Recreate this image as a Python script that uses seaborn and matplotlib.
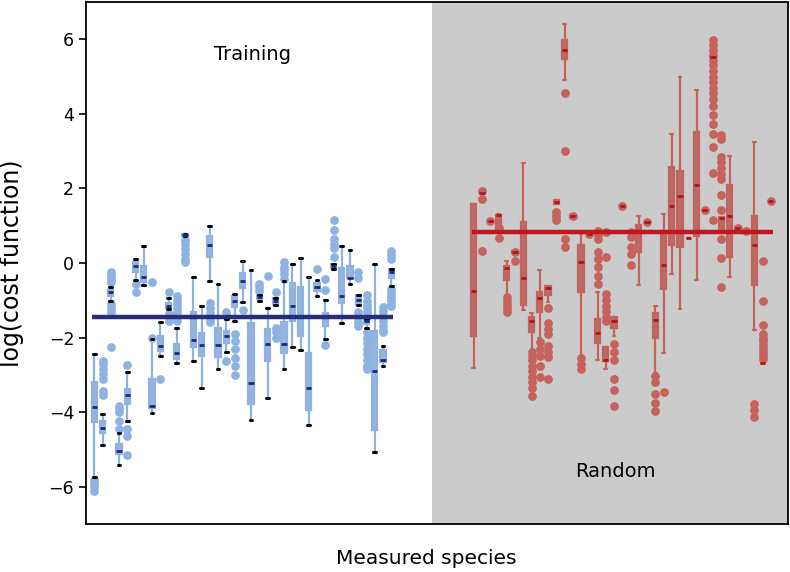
import numpy as np
import pandas as pd
import matplotlib
matplotlib.use("Agg")
import matplotlib.pyplot as plt
import seaborn as sns

# five-number summaries (lo whisker, q1, median, q3, hi whisker)
train_lo = [-5.74, -4.87, -1.03, -5.42, -4.25, -0.45, -0.59, -4.03, -2.49, -1.23,
            -2.69, 0.72, -2.62, -3.36, -0.47, -2.85, -2.40, -1.55, -1.04, -4.21,
            -1.01, -3.61, -1.13, -2.85, -2.24, -2.33, -4.34, -0.88, -2.04, -0.16,
            -1.61, -0.55, -1.13, -1.73, -5.08, -2.76, -0.63]
train_q1 = [-4.26, -4.55, -0.88, -5.13, -3.79, -0.23, -0.50, -3.90, -2.35, -1.22,
            -2.58, 0.72, -2.26, -2.49, 0.15, -2.53, -2.15, -1.19, -0.68, -3.79,
            -0.97, -2.62, -1.10, -2.42, -1.55, -1.97, -3.94, -0.74, -1.68, -0.14,
            -1.06, -0.41, -1.13, -1.64, -4.47, -2.65, -0.41]
train_med = [-3.87, -4.43, -0.77, -5.04, -3.54, -0.09, -0.37, -3.83, -2.22, -1.15,
             -2.42, 0.76, -2.06, -2.19, 0.47, -2.20, -1.97, -1.03, -0.49, -3.22,
             -0.92, -2.16, -1.01, -2.16, -1.15, -1.46, -3.34, -0.65, -1.43, -0.07,
             -0.88, -0.39, -0.99, -1.55, -2.89, -2.60, -0.23]
train_q3 = [-3.20, -4.23, -0.72, -4.86, -3.38, 0.02, -0.07, -3.11, -1.95, -1.06,
            -2.17, 0.78, -1.31, -1.88, 0.72, -1.73, -1.82, -0.89, -0.28, -1.62,
            -0.87, -1.77, -0.94, -1.57, -0.54, -0.65, -2.42, -0.54, -1.33, -0.03,
            -0.14, -0.07, -0.86, -1.49, -1.82, -2.34, -0.16]
train_hi = [-2.45, -4.05, -0.64, -4.55, -2.92, 0.11, 0.45, -2.05, -1.57, -0.94,
            -1.74, 0.78, -0.38, -1.16, 1.00, -0.56, -1.50, -0.83, 0.06, -0.18,
            -0.87, -1.22, -0.94, -0.47, -0.03, 0.13, -0.37, -0.45, -0.99, -0.03,
            0.45, 0.35, -0.86, -1.49, -0.03, -2.22, -0.16]
train_fliers = [
    [-5.82, -5.92, -6.02, -6.12],
    [-2.62, -2.72, -2.85, -2.98, -3.11, -3.43, -3.55],
    [-0.25, -0.33, -0.42, -0.52, -1.10, -1.20, -1.32, -2.26],
    [-3.83, -3.92, -4.00, -4.23, -4.45],
    [-2.73, -4.46, -4.65, -5.15],
    [-0.55, -0.77],
    [],
    [-0.50, -2.00],
    [-3.10],
    [-0.77, -1.37, -1.46, -1.55],
    [-0.88, -1.00, -1.10, -1.20, -1.32, -1.43, -1.55],
    [0.62, 0.50, 0.38, 0.24, 0.11, 0.02],
    [],
    [],
    [-1.06, -1.20, -1.35, -1.50, -1.59],
    [],
    [-1.32, -2.62],
    [-1.90, -2.10, -2.30, -2.55, -2.75, -3.00],
    [-1.26],
    [],
    [-0.56, -0.65, -0.75],
    [-0.34],
    [-0.79, -1.73, -1.85, -2.00],
    [0.02, -0.10, -0.20, -0.30, -0.43],
    [],
    [],
    [],
    [-0.16],
    [-0.43, -0.72, -2.19],
    [1.14, 0.89, 0.64, 0.52, 0.40, 0.15],
    [],
    [],
    [-0.23, -0.41, -1.32, -1.45, -1.58, -1.68],
    [-0.85, -1.01, -1.12, -1.22, -1.32, -1.41, -1.86, -2.00, -2.15, -2.30, -2.45, -2.60, -2.75, -2.85],
    [],
    [-1.19, -1.30, -1.42, -1.55, -1.68, -1.80, -1.86],
    [0.33, 0.22, 0.11, -0.70, -0.80, -0.90, -1.00, -1.10, -1.15],
]

rand_lo = [-2.82, 1.88, 1.10, 0.88, -0.90, 0.27, -1.25, -2.35, -2.00, -1.04,
           1.58, 4.92, 1.22, -2.50, 0.75, -2.60, -2.83, -1.95, 1.52, 0.82,
           -0.59, 1.09, -2.95, -2.42, -0.30, -1.23, 0.67, -0.45, 1.42, 5.52,
           0.82, -0.38, 0.90, 0.85, -1.79, -2.67, 1.65]
rand_q1 = [-1.95, 1.88, 1.10, 0.90, -0.46, 0.27, -1.13, -1.86, -1.31, -0.86,
           1.58, 5.46, 1.22, -0.79, 0.75, -2.15, -2.62, -1.73, 1.52, 0.82,
           0.29, 1.09, -2.02, -0.70, 0.47, 0.42, 0.67, 0.72, 1.42, 5.50,
           0.82, 0.15, 0.90, 0.85, -0.59, -2.67, 1.65]
rand_med = [-0.76, 1.88, 1.12, 1.30, -0.14, 0.30, -0.41, -1.55, -0.94, -0.68,
            1.63, 5.72, 1.25, 0.04, 0.78, -1.88, -2.60, -1.55, 1.52, 0.82,
            0.82, 1.09, -1.52, -0.05, 1.54, 1.79, 0.67, 2.09, 1.42, 5.52,
            1.20, 1.27, 0.94, 0.85, 0.48, -2.67, 1.65]
rand_q3 = [1.58, 1.88, 1.16, 1.30, -0.07, 0.33, 1.09, -1.46, -0.79, -0.61,
           1.68, 5.97, 1.28, 0.47, 0.81, -1.50, -2.24, -1.46, 1.52, 0.82,
           1.02, 1.09, -1.35, 0.87, 2.57, 2.46, 0.67, 3.51, 1.42, 5.55,
           1.23, 2.08, 0.97, 0.85, 1.27, -2.67, 1.65]
rand_hi = [1.58, 1.88, 1.16, 1.32, 0.06, 0.33, 2.68, -1.34, -0.18, -0.61,
           1.68, 6.42, 1.28, 0.78, 0.81, -0.79, -2.24, -1.46, 1.52, 0.82,
           1.25, 1.09, -1.15, 1.32, 3.46, 5.00, 0.67, 4.64, 1.42, 5.55,
           1.23, 2.88, 0.97, 0.85, 3.24, -2.67, 1.65]
rand_fliers = [
    [],
    [1.94, 1.72, 0.31],
    [1.12],
    [0.95, 0.67],
    [-0.92, -1.02, -1.12, -1.22, -1.32],
    [0.30, 0.06],
    [],
    [-2.40, -2.50, -2.60, -2.75, -2.90, -3.05, -3.20, -3.35, -3.56],
    [-2.13, -2.30, -2.50, -2.75, -3.07],
    [-1.21, -1.61, -1.76, -1.91, -2.22, -2.38, -2.53, -3.10],
    [1.36, 1.25, 1.14],
    [4.55, 3.00, 0.64, 0.42],
    [1.25],
    [-2.55, -2.70, -2.85],
    [0.78],
    [0.87, 0.75, 0.64, 0.29, 0.10, -0.10, -0.35, -0.56],
    [0.82, 0.15, -0.83, -1.00, -1.15, -1.30, -1.45, -1.55],
    [-2.17, -2.40, -2.60, -3.10, -3.40, -3.83],
    [1.52],
    [0.82, 0.69, 0.42, 0.24, -0.05],
    [],
    [1.09],
    [-3.02, -3.20, -3.50, -3.75, -3.96],
    [-3.47],
    [],
    [],
    [],
    [],
    [1.42],
    [5.97, 5.85, 5.70, 5.58, 5.45, 5.30, 5.15, 5.00, 4.85, 4.70, 4.55, 4.40, 4.22,
     3.97, 3.73, 3.46, 3.10, 2.42, 1.16],
    [3.44, 3.33, 2.84, 2.70, 2.55, 2.40, 2.26, 1.83, 1.42, 0.64, 0.13, -0.65],
    [],
    [0.94],
    [0.85],
    [-3.79, -3.95, -4.14],
    [0.06, -1.01, -1.66, -1.91, -2.00, -2.10, -2.20, -2.30, -2.40, -2.50, -2.58],
    [1.65],
]

train_mean = -1.45
rand_mean = 0.82

train_species = [f"T{i + 1}" for i in range(len(train_med))]
rand_species = [f"R{i + 1}" for i in range(len(rand_med))]
empty_species = [f"E{i + 1}" for i in range(9)]
order = train_species + empty_species + rand_species


def box_frame(species, lo, q1, med, q3, hi):
    '''
    Rows whose quartiles / extremes reproduce the read summaries
    '''
    rows = []
    for i, name in enumerate(species):
        for v in (lo[i], q1[i], med[i], q3[i], hi[i]):
            rows.append((name, v))
    return pd.DataFrame(rows, columns=["species", "value"])


def flier_frame(species, fliers):
    rows = []
    for name, vals in zip(species, fliers):
        for v in vals:
            rows.append((name, v))
    return pd.DataFrame(rows, columns=["species", "value"])


train_df = box_frame(train_species, train_lo, train_q1, train_med, train_q3, train_hi)
rand_df = box_frame(rand_species, rand_lo, rand_q1, rand_med, rand_q3, rand_hi)
train_out = flier_frame(train_species, train_fliers)
rand_out = flier_frame(rand_species, rand_fliers)

blue = "#8eb3e2"
navy = "#1e2a7a"
red = "#c4625b"
dark_red = "#b3141c"
grey = "#cbcbcc"

sns.set_style("ticks")
plt.rcParams["font.family"] = ["DejaVu Sans"]
plt.rcParams["text.color"] = "black"
plt.rcParams["axes.labelcolor"] = "black"
plt.rcParams["ytick.color"] = "black"

fig = plt.figure(figsize=(7.9, 5.72), dpi=100)
ax = fig.add_axes([86 / 790, 1 - 524 / 572, 701.7 / 790, 522 / 572])

ax.axvspan(40.9, 84.05, color=grey, zorder=0, lw=0)

for out, col in ((train_out, blue), (rand_out, red)):
    sns.stripplot(data=out, x="species", y="value", order=order, jitter=False,
                  color=col, size=6.3, linewidth=0, ax=ax, zorder=2)

sns.boxplot(data=train_df, x="species", y="value", order=order, whis=(0, 100),
            width=0.65, color=blue, linecolor=blue, linewidth=1.6, showfliers=False,
            medianprops={"color": navy, "linewidth": 2},
            capprops={"color": "black", "linewidth": 2.2},
            ax=ax)
sns.boxplot(data=rand_df, x="species", y="value", order=order, whis=(0, 100),
            width=0.65, color=red, linecolor=red, linewidth=1.6, showfliers=False,
            medianprops={"color": dark_red, "linewidth": 2},
            capprops={"color": red, "linewidth": 1.6},
            ax=ax)

n_train = len(train_species)
first_rand = n_train + len(empty_species)
ax.hlines(train_mean, -0.25, n_train - 0.75, color="#262e7c", lw=3.2, zorder=6)
ax.hlines(rand_mean, first_rand - 0.25, len(order) - 0.75, color="#c0161e", lw=3.2, zorder=6)

ax.text(19.2, 5.6, "Training", ha="center", va="center", fontsize=14)
ax.text(63.2, -5.6, "Random", ha="center", va="center", fontsize=14)

ax.set_xlim(-1.0, 84.05)
ax.set_ylim(-7, 7)
ax.set_yticks([-6, -4, -2, 0, 2, 4, 6])
ax.set_xticks([])
ax.set_xlabel("Measured species", fontsize=14.5)
ax.set_ylabel("log(cost function)", fontsize=17)
ax.xaxis.set_label_coords(0.485, -0.047)
ax.yaxis.set_label_coords(-0.088, 0.5)
ax.tick_params(axis="y", labelsize=12.5, length=5, width=1.2)
for s in ax.spines.values():
    s.set_visible(True)
    s.set_linewidth(1.3)
    s.set_color("black")

fig.savefig("out.png", dpi=100)
